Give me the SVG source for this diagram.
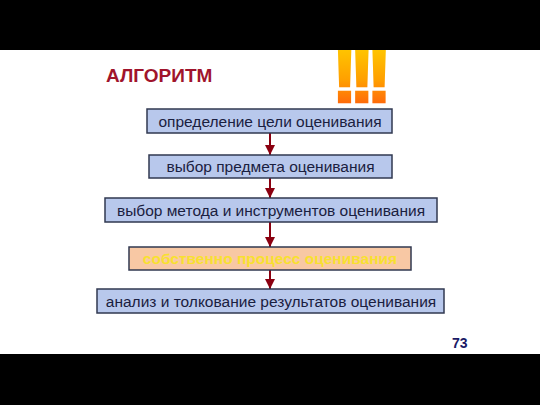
<svg xmlns="http://www.w3.org/2000/svg" width="540" height="405" viewBox="0 0 540 405">
<defs>
<linearGradient id="exg" x1="0" y1="0" x2="0" y2="1">
<stop offset="0" stop-color="#ffd800"/>
<stop offset="0.55" stop-color="#ffa000"/>
<stop offset="1" stop-color="#ff4a10"/>
</linearGradient>
<marker id="ah" viewBox="0 0 10 10" refX="10" refY="5" markerWidth="5" markerHeight="5" orient="auto" markerUnits="strokeWidth">
<path d="M0,0 L10,5 L0,10 Z" fill="#8b0010"/>
</marker>
<style>
.box{fill:#b8c8ec;stroke:#303850;stroke-width:1.5}
.hot{fill:#f8c8a4;stroke:#303850;stroke-width:1.5}
.t{font-family:"Liberation Sans",Arial,sans-serif;font-size:15.5px;fill:#1a2040;text-anchor:middle}
.ty{font-family:"Liberation Sans",Arial,sans-serif;font-size:15.5px;font-weight:bold;fill:#f8e030;text-anchor:middle}
.c{stroke:#8b0010;stroke-width:2;fill:none;marker-end:url(#ah)}
</style>
</defs>
<rect x="0" y="0" width="540" height="405" fill="#ffffff"/>
<text x="332" y="102" font-family="'Liberation Sans',Arial,sans-serif" font-size="76" font-weight="bold" letter-spacing="-8" fill="url(#exg)" stroke="url(#exg)" stroke-width="2.5">!!!</text>
<rect x="0" y="0" width="540" height="50" fill="#000000"/>
<rect x="0" y="354" width="540" height="51" fill="#000000"/>
<text x="106" y="82" font-family="'Liberation Sans',Arial,sans-serif" font-size="19" font-weight="bold" fill="#a0142c">АЛГОРИТМ</text>
<g id="connectors">
<line class="c" x1="270" y1="133" x2="270" y2="155"/>
<line class="c" x1="270" y1="178" x2="270" y2="198"/>
<line class="c" x1="270" y1="222" x2="270" y2="247"/>
<line class="c" x1="270" y1="270" x2="270" y2="289"/>
</g>
<g id="n1"><rect class="box" x="147" y="109" width="245" height="24"/><text class="t" x="270" y="126.5">определение цели оценивания</text></g>
<g id="n2"><rect class="box" x="149" y="155" width="243" height="23"/><text class="t" x="270.5" y="172">выбор предмета оценивания</text></g>
<g id="n3"><rect class="box" x="105" y="198" width="332" height="24"/><text class="t" x="271" y="215.5">выбор метода и инструментов оценивания</text></g>
<g id="n4"><rect class="hot" x="129" y="247" width="282" height="23"/><text class="ty" x="270" y="264">собственно процесс оценивания</text></g>
<g id="n5"><rect class="box" x="97" y="289" width="347" height="24"/><text class="t" x="271" y="306.5">анализ и толкование результатов оценивания</text></g>
<text x="452" y="348" font-family="'Liberation Sans',Arial,sans-serif" font-size="14" font-weight="bold" fill="#1a1a66">73</text>
</svg>
